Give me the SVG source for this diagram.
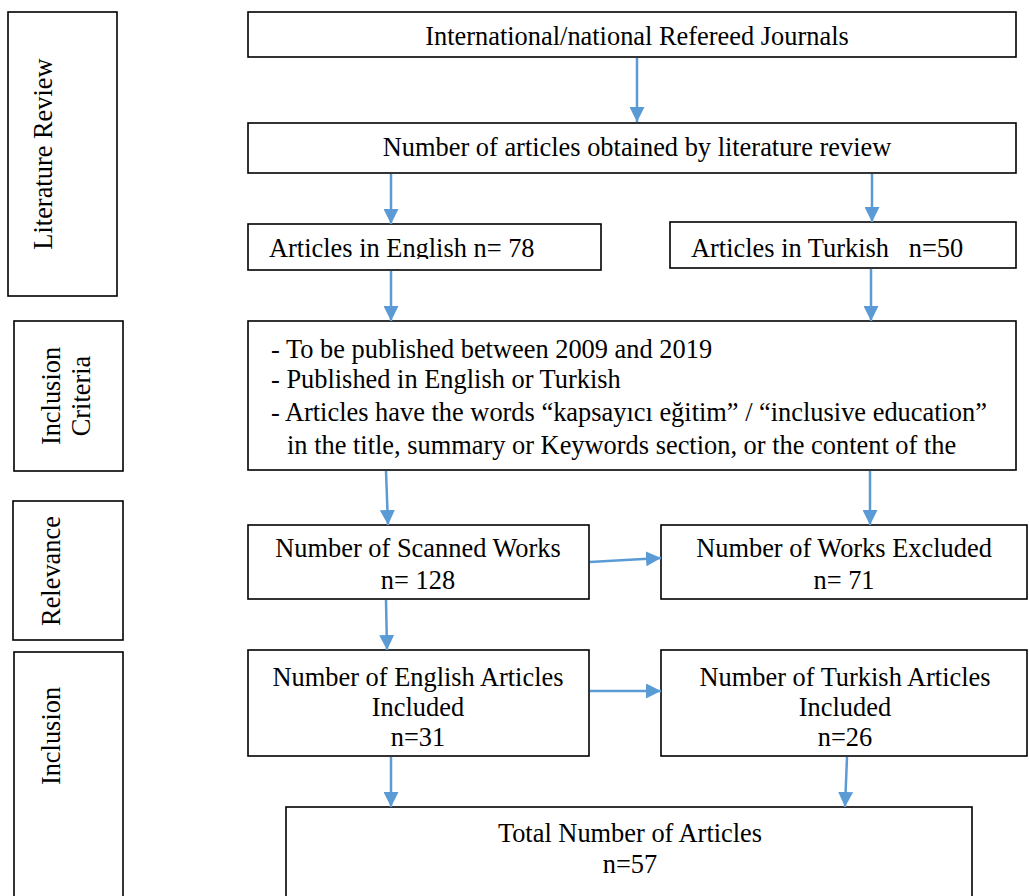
<svg xmlns="http://www.w3.org/2000/svg" width="1029" height="896" viewBox="0 0 1029 896">
<style>
.box{fill:#fff;stroke:#000;stroke-width:1.6}
.t{font-family:"Liberation Serif","Times New Roman",serif;font-size:26.4px;fill:#000}
.c{text-anchor:middle}
.pre{white-space:pre}
.conn{stroke:#5B9BD5;stroke-width:2.5;fill:none;marker-end:url(#ah)}
</style>
<defs>
<marker id="ah" markerUnits="userSpaceOnUse" markerWidth="15" markerHeight="15" refX="15" refY="7.5" orient="auto">
<path d="M0,0 L15,7.5 L0,15 z" fill="#5B9BD5"/>
</marker>
<clipPath id="clipEn"><rect x="248" y="224" width="353" height="35"/></clipPath>
</defs>
<rect width="1029" height="896" fill="#fff"/>

<g id="stage-literature-review">
<rect class="box" x="8" y="12" width="109" height="284"/>
<text class="t c" transform="translate(52,154) rotate(-90)">Literature Review</text>
</g>
<g id="stage-inclusion-criteria">
<rect class="box" x="14" y="321" width="109" height="150"/>
<text class="t c" transform="translate(60,396) rotate(-90)">Inclusion</text>
<text class="t c" transform="translate(90,396) rotate(-90)">Criteria</text>
</g>
<g id="stage-relevance">
<rect class="box" x="13" y="501" width="110" height="139"/>
<text class="t c" transform="translate(60,571) rotate(-90)">Relevance</text>
</g>
<g id="stage-inclusion">
<rect class="box" x="14" y="652" width="109" height="250"/>
<text class="t c" transform="translate(60,736) rotate(-90)">Inclusion</text>
</g>

<g id="node-journals">
<rect class="box" x="248" y="12" width="768" height="45"/>
<text class="t c" x="637" y="45">International/national Refereed Journals</text>
</g>
<g id="node-articles-obtained">
<rect class="box" x="248" y="123" width="768" height="50"/>
<text class="t c" x="637" y="156">Number of articles obtained by literature review</text>
</g>
<g id="node-english">
<rect class="box" x="248" y="224" width="353" height="46"/>
<text class="t" x="269" y="257" clip-path="url(#clipEn)">Articles in English n= 78</text>
</g>
<g id="node-turkish">
<rect class="box" x="670" y="222" width="346" height="46"/>
<text class="t pre" x="691" y="257">Articles in Turkish   n=50</text>
</g>
<g id="node-criteria">
<rect class="box" x="248" y="321" width="768" height="149"/>
<text class="t pre" x="271" y="358">- To be published between 2009 and 2019</text>
<text class="t pre" x="271" y="388">- Published in English or Turkish</text>
<text class="t pre" x="271" y="421">- Articles have the words “kapsayıcı eğitim” / “inclusive education”</text>
<text class="t pre" x="287" y="454">in the title, summary or Keywords section, or the content of the</text>
</g>
<g id="node-scanned">
<rect class="box" x="248" y="525" width="341" height="74"/>
<text class="t c" x="418" y="557">Number of Scanned Works</text>
<text class="t c" x="418" y="589">n= 128</text>
</g>
<g id="node-excluded">
<rect class="box" x="661" y="525" width="366" height="74"/>
<text class="t c" x="844" y="557">Number of Works Excluded</text>
<text class="t c" x="844" y="589">n= 71</text>
</g>
<g id="node-english-included">
<rect class="box" x="248" y="650" width="341" height="106"/>
<text class="t c" x="418" y="686">Number of English Articles</text>
<text class="t c" x="418" y="716">Included</text>
<text class="t c" x="418" y="746">n=31</text>
</g>
<g id="node-turkish-included">
<rect class="box" x="661" y="650" width="366" height="106"/>
<text class="t c" x="845" y="686">Number of Turkish Articles</text>
<text class="t c" x="845" y="716">Included</text>
<text class="t c" x="845" y="746">n=26</text>
</g>
<g id="node-total">
<rect class="box" x="286" y="807" width="686" height="100"/>
<text class="t c" x="630" y="842">Total Number of Articles</text>
<text class="t c" x="630" y="873">n=57</text>
</g>

<g id="connectors">
<line class="conn" x1="637" y1="58" x2="637" y2="122"/>
<line class="conn" x1="391" y1="174" x2="391" y2="224"/>
<line class="conn" x1="872" y1="174" x2="872" y2="222"/>
<line class="conn" x1="391" y1="271" x2="391" y2="321"/>
<line class="conn" x1="871" y1="269" x2="871" y2="321"/>
<line class="conn" x1="386" y1="471" x2="388" y2="525"/>
<line class="conn" x1="870" y1="471" x2="870" y2="525"/>
<line class="conn" x1="590" y1="562" x2="661" y2="558"/>
<line class="conn" x1="386" y1="600" x2="387" y2="650"/>
<line class="conn" x1="590" y1="691" x2="661" y2="691"/>
<line class="conn" x1="391" y1="757" x2="391" y2="807"/>
<line class="conn" x1="847" y1="757" x2="845" y2="807"/>
</g>
</svg>
